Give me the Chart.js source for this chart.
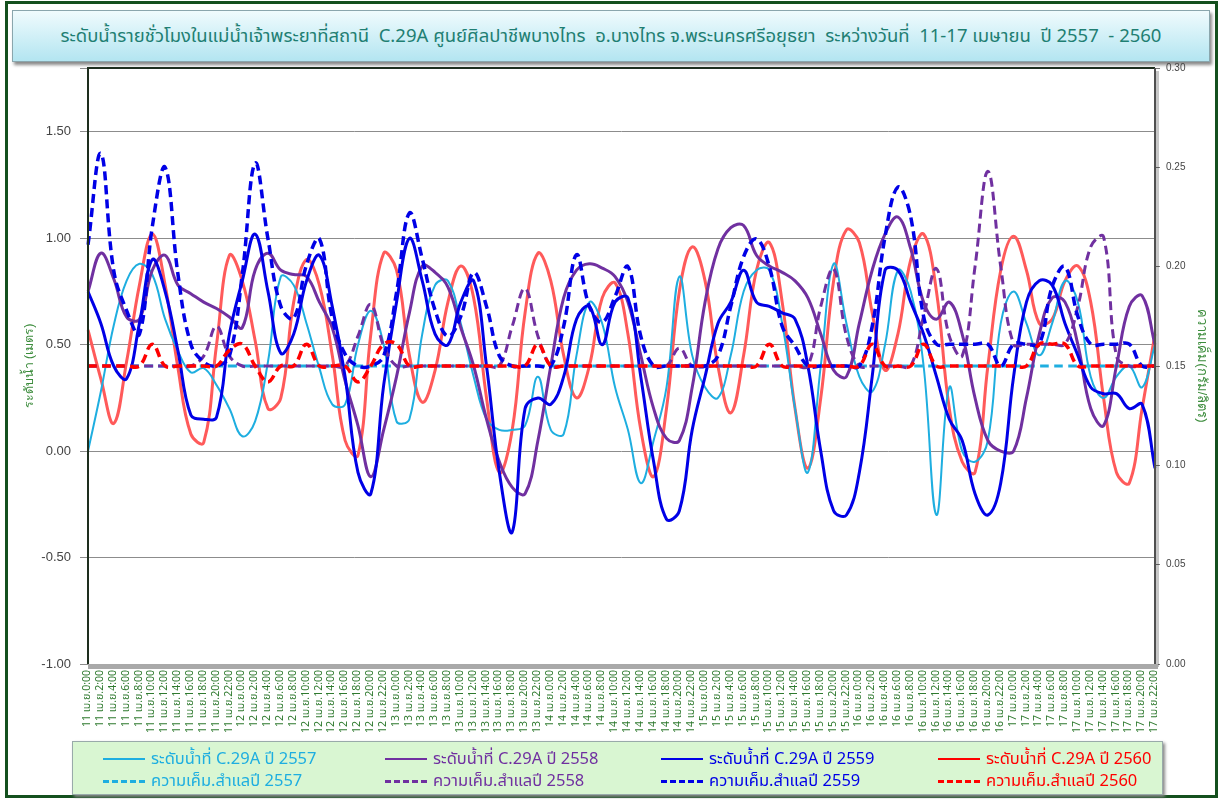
<!DOCTYPE html>
<html>
<head>
<meta charset="utf-8">
<script src="https://cdn.jsdelivr.net/npm/chart.js@4.4.1/dist/chart.umd.min.js"></script>
<style>
  body { margin: 0; width: 1221px; height: 799px; overflow: hidden; position: relative; background: #fff;
         font-family: Tahoma, "Noto Sans Thai", "Noto Sans", sans-serif; }
  #frame { position: absolute; left: 5px; top: 1px; width: 1207px; height: 791px; border: 3px solid #14501e; }
  #title { position: absolute; left: 12px; top: 10px; width: 1196px; height: 50px; border: 1px solid #8aa6ad;
           background: linear-gradient(#f0fbfd, #b3e5f1); box-shadow: 2px 3px 3px #8a8a8a;
           color: #1f7f73; font-size: 18.5px; line-height: 50px; text-align: center; white-space: nowrap; }
  #chart { position: absolute; left: 0; top: 0; }
  #legend { position: absolute; left: 72px; top: 741px; width: 1089px; height: 52px; background: #d9f6d2;
            border: 1px solid #9aa; box-shadow: 2px 2px 3px #888; }
  .item { position: absolute; font-size: 16.5px; line-height: 19px; white-space: nowrap; }
  .item span.sw { display: inline-block; width: 42px; vertical-align: middle; margin-right: 6px; }
</style>
</head>
<body>
<div id="frame"></div>
<div id="title">ระดับน้ำรายชั่วโมงในแม่น้ำเจ้าพระยาที่สถานี&nbsp; C.29A ศูนย์ศิลปาชีพบางไทร&nbsp; อ.บางไทร จ.พระนครศรีอยุธยา&nbsp; ระหว่างวันที่&nbsp; 11-17 เมษายน&nbsp; ปี 2557&nbsp; - 2560</div>
<canvas id="chart" width="1221" height="799"></canvas>
<div id="legend"></div>
<script>
// ====== ข้อมูล ======
const days = [11, 12, 13, 14, 15, 16, 17];
const hours = [0, 2, 4, 6, 8, 10, 12, 14, 16, 18, 20, 22];

// ระดับน้ำ (เมตร)
const level2557 = [0.00,0.28,0.59,0.80,0.88,0.83,0.62,0.47,0.37,0.39,
  0.31,0.20,0.07,0.14,0.42,0.82,0.78,0.60,0.39,0.22,
  0.22,0.50,0.66,0.50,0.14,0.15,0.55,0.78,0.80,0.60,
  0.35,0.15,0.10,0.10,0.12,0.35,0.10,0.08,0.45,0.70,
  0.60,0.30,0.10,-0.15,0.05,0.30,0.82,0.45,0.30,0.25,
  0.45,0.75,0.85,0.85,0.60,0.20,-0.10,0.40,0.88,0.60,
  0.35,0.28,0.50,0.85,0.75,0.40,-0.30,0.30,0.00,-0.05,
  0.05,0.60,0.75,0.60,0.45,0.60,0.80,0.70,0.35,0.25,
  0.35,0.40,0.30,0.50];
const level2558 = [0.75,0.93,0.81,0.63,0.62,0.85,0.92,0.78,0.74,0.70,
  0.67,0.63,0.58,0.85,0.93,0.85,0.83,0.82,0.70,0.58,
  0.33,0.12,-0.12,0.10,0.35,0.65,0.87,0.84,0.77,0.58,
  0.40,0.15,-0.05,-0.17,-0.20,0.05,0.40,0.72,0.85,0.88,
  0.86,0.82,0.70,0.45,0.20,0.06,0.05,0.30,0.70,0.95,
  1.05,1.06,0.92,0.87,0.84,0.80,0.72,0.55,0.38,0.35,
  0.60,0.85,1.02,1.10,0.95,0.70,0.62,0.70,0.55,0.25,
  0.05,0.00,0.00,0.25,0.55,0.72,0.70,0.50,0.20,0.12,
  0.40,0.68,0.73,0.50];
const level2559 = [0.75,0.60,0.40,0.34,0.60,0.90,0.75,0.47,0.17,0.15,
  0.16,0.55,0.80,1.02,0.75,0.46,0.55,0.80,0.92,0.68,
  0.35,-0.10,-0.20,0.31,0.70,1.00,0.80,0.55,0.50,0.70,
  0.80,0.40,-0.10,-0.38,0.20,0.25,0.22,0.35,0.62,0.68,
  0.50,0.70,0.72,0.35,-0.05,-0.32,-0.28,0.10,0.35,0.60,
  0.70,0.85,0.70,0.68,0.65,0.62,0.40,0.00,-0.28,-0.30,
  -0.10,0.35,0.85,0.85,0.70,0.55,0.35,0.15,0.05,-0.20,
  -0.30,-0.15,0.35,0.70,0.80,0.78,0.60,0.45,0.30,0.27,
  0.27,0.20,0.22,-0.08];
const level2560 = [0.57,0.34,0.13,0.42,0.78,1.02,0.78,0.39,0.08,0.04,
  0.50,0.92,0.80,0.52,0.20,0.25,0.70,0.90,0.78,0.45,
  0.05,-0.02,0.55,0.93,0.85,0.45,0.23,0.38,0.70,0.87,
  0.72,0.25,-0.10,0.10,0.65,0.93,0.80,0.45,0.25,0.40,
  0.72,0.79,0.55,0.10,-0.12,0.20,0.75,0.96,0.80,0.40,
  0.18,0.45,0.85,0.98,0.70,0.20,-0.08,0.25,0.80,1.04,
  0.98,0.65,0.38,0.55,0.90,1.02,0.75,0.20,-0.05,-0.10,
  0.40,0.85,1.01,0.85,0.60,0.62,0.80,0.87,0.70,0.25,
  -0.10,-0.15,0.20,0.55];

// ความเค็ม (กรัม/ลิตร)
const salt2557 = [0.15,0.15,0.15,0.15,0.15,0.15,0.15,0.15,0.15,0.15,
  0.15,0.15,0.15,0.15,0.15,0.15,0.15,0.15,0.15,0.15,
  0.15,0.15,0.15,0.15,0.15,0.15,0.15,0.15,0.15,0.15,
  0.15,0.15,0.15,0.15,0.15,0.15,0.15,0.15,0.15,0.15,
  0.15,0.15,0.15,0.15,0.15,0.15,0.15,0.15,0.15,0.15,
  0.15,0.15,0.15,0.15,0.15,0.15,0.15,0.15,0.15,0.15,
  0.15,0.15,0.15,0.15,0.15,0.15,0.15,0.15,0.15,0.15,
  0.15,0.15,0.15,0.15,0.15,0.15,0.15,0.15,0.15,0.15,
  0.15,0.15,0.15,0.15];
const salt2558 = [0.15,0.15,0.15,0.15,0.15,0.15,0.15,0.15,0.15,0.155,
  0.170,0.155,0.15,0.15,0.15,0.15,0.15,0.15,0.15,0.15,
  0.15,0.165,0.181,0.160,0.15,0.15,0.15,0.15,0.15,0.15,
  0.15,0.15,0.15,0.170,0.189,0.165,0.15,0.15,0.15,0.15,
  0.15,0.15,0.15,0.15,0.15,0.15,0.159,0.15,0.15,0.15,
  0.15,0.15,0.15,0.15,0.15,0.15,0.15,0.180,0.199,0.165,
  0.15,0.15,0.15,0.15,0.15,0.175,0.199,0.165,0.155,0.200,
  0.248,0.200,0.161,0.161,0.161,0.161,0.161,0.180,0.210,0.215,
  0.155,0.15,0.15,0.15];
const salt2559 = [0.211,0.257,0.198,0.178,0.166,0.220,0.250,0.196,0.161,0.152,
  0.150,0.155,0.196,0.252,0.214,0.180,0.174,0.201,0.214,0.174,
  0.156,0.150,0.150,0.155,0.187,0.227,0.204,0.178,0.165,0.175,
  0.197,0.180,0.155,0.150,0.150,0.150,0.150,0.170,0.206,0.180,
  0.172,0.185,0.200,0.165,0.150,0.150,0.150,0.150,0.150,0.155,
  0.180,0.205,0.214,0.200,0.170,0.160,0.150,0.150,0.150,0.150,
  0.150,0.170,0.215,0.240,0.225,0.175,0.161,0.161,0.161,0.161,
  0.161,0.150,0.161,0.161,0.161,0.190,0.200,0.175,0.161,0.161,
  0.161,0.161,0.150,0.150];
const salt2560 = [0.15,0.15,0.15,0.15,0.15,0.161,0.15,0.15,0.15,0.15,
  0.15,0.158,0.161,0.15,0.142,0.15,0.15,0.161,0.15,0.15,
  0.15,0.142,0.15,0.161,0.161,0.15,0.15,0.15,0.15,0.15,
  0.15,0.15,0.15,0.15,0.15,0.161,0.15,0.15,0.15,0.15,
  0.15,0.15,0.15,0.15,0.15,0.15,0.15,0.15,0.15,0.15,
  0.15,0.15,0.15,0.161,0.15,0.15,0.15,0.15,0.15,0.15,
  0.15,0.161,0.15,0.15,0.15,0.161,0.15,0.15,0.15,0.15,
  0.15,0.15,0.15,0.15,0.161,0.161,0.161,0.15,0.15,0.15,
  0.15,0.15,0.15,0.15];

const labels = [];
days.forEach((d) => hours.forEach((h) => labels.push(d + " เม.ย." + h + ":00")));

// ====== สีและชุดข้อมูล ======
const CYAN = "#1eaee0", PURPLE = "#7030a0", BLUE = "#0000e6", RED = "#ff5a5a", RED_D = "#ff0000";

const series = [
  { label: "ระดับน้ำที่ C.29A ปี 2557", data: level2557, color: CYAN, width: 2, axis: "y", order: 6 },
  { label: "ระดับน้ำที่ C.29A ปี 2558", data: level2558, color: PURPLE, width: 3, axis: "y", order: 4 },
  { label: "ระดับน้ำที่ C.29A ปี 2559", data: level2559, color: BLUE, width: 3, axis: "y", order: 3 },
  { label: "ระดับน้ำที่ C.29A ปี 2560", data: level2560, color: RED, width: 3, axis: "y", order: 7 },
  { label: "ความเค็ม.สำแลปี 2557", data: salt2557, color: CYAN, width: 3, axis: "y1", dash: true, order: 5 },
  { label: "ความเค็ม.สำแลปี 2558", data: salt2558, color: PURPLE, width: 3, axis: "y1", dash: true, order: 2 },
  { label: "ความเค็ม.สำแลปี 2559", data: salt2559, color: BLUE, width: 3.5, axis: "y1", dash: true, order: 1 },
  { label: "ความเค็ม.สำแลปี 2560", data: salt2560, color: RED_D, width: 3.5, axis: "y1", dash: true, order: 0 },
];

const plotFrame = {
  id: "plotFrame",
  afterDatasetsDraw(chart) {
    const { left, top, right, bottom } = chart.chartArea;
    const g = chart.ctx;
    g.save();
    g.fillStyle = "rgba(0,0,0,0.22)";
    g.fillRect(right + 1, top + 3, 3, bottom - top);
    g.fillStyle = "#a9a9a9";
    g.fillRect(left, bottom, right - left + 3, 5);
    g.strokeStyle = "#1e2e1e";
    g.lineWidth = 2;
    g.beginPath();
    g.moveTo(left, bottom);
    g.lineTo(left, top);
    g.lineTo(right, top);
    g.stroke();
    g.strokeStyle = "#505050";
    g.beginPath();
    g.moveTo(right, top);
    g.lineTo(right, bottom);
    g.stroke();
    g.restore();
  },
};

new Chart(document.getElementById("chart"), {
  type: "line",
  data: {
    labels: labels,
    datasets: series.map((s) => ({
      label: s.label,
      data: s.data,
      yAxisID: s.axis,
      borderColor: s.color,
      borderWidth: s.width,
      borderDash: s.dash ? [9, 5] : [],
      pointRadius: 0,
      tension: 0.4,
      fill: false,
      order: s.order,
    })),
  },
  options: {
    responsive: false,
    animation: false,
    layout: { padding: { left: 18, top: 68, right: 8, bottom: 59 } },
    plugins: { legend: { display: false }, tooltip: { enabled: false } },
    scales: {
      x: {
        grid: { drawOnChartArea: false, tickLength: 4, color: "#777" },
        border: { display: false },
        ticks: { autoSkip: false, minRotation: 90, maxRotation: 90, padding: 2,
                 color: "#2f7a2f", font: { family: "Tahoma, 'Noto Sans Thai', sans-serif", size: 10.5 } },
        afterFit(s) { s.height = 76; },
      },
      y: {
        position: "left",
        min: -1,
        max: 1.8,
        grid: { color: "#8c8c8c", tickLength: 8 },
        border: { display: false },
        ticks: { stepSize: 0.5, padding: 9, color: "#444", font: { size: 13 },
                 callback: (v) => (v > 1.6 ? "" : v.toFixed(2)) },
        title: { display: true, text: "ระดับน้ำ (เมตร)", color: "#3c8c3c", font: { size: 12.5 } },
        afterFit(s) { s.width = 70; },
      },
      y1: {
        position: "right",
        min: 0,
        max: 0.3,
        grid: { drawOnChartArea: false, tickLength: 5, color: "#777" },
        border: { display: false },
        ticks: { stepSize: 0.05, padding: 6, color: "#444", font: { size: 10 },
                 callback: (v) => v.toFixed(2) },
        title: { display: true, text: "ความเค็ม(กรัม/ลิตร)", color: "#3c8c3c", font: { size: 13 } },
        afterFit(s) { s.width = 58; },
      },
    },
  },
  plugins: [plotFrame],
});

// ====== คำอธิบายสัญลักษณ์ ======
const legendCols = [30, 312, 588, 865];
const legendEl = document.getElementById("legend");
series.forEach((s, i) => {
  const item = document.createElement("div");
  item.className = "item";
  item.style.left = legendCols[i % 4] + "px";
  item.style.top = (i < 4 ? 7 : 29) + "px";
  item.style.color = s.color === RED ? RED_D : s.color;
  const sw = document.createElement("span");
  sw.className = "sw";
  sw.style.borderTop = (s.dash ? "3px dashed " : "2.5px solid ") + (s.color === RED ? RED_D : s.color);
  item.appendChild(sw);
  item.appendChild(document.createTextNode(s.label));
  legendEl.appendChild(item);
});
</script>
</body>
</html>
